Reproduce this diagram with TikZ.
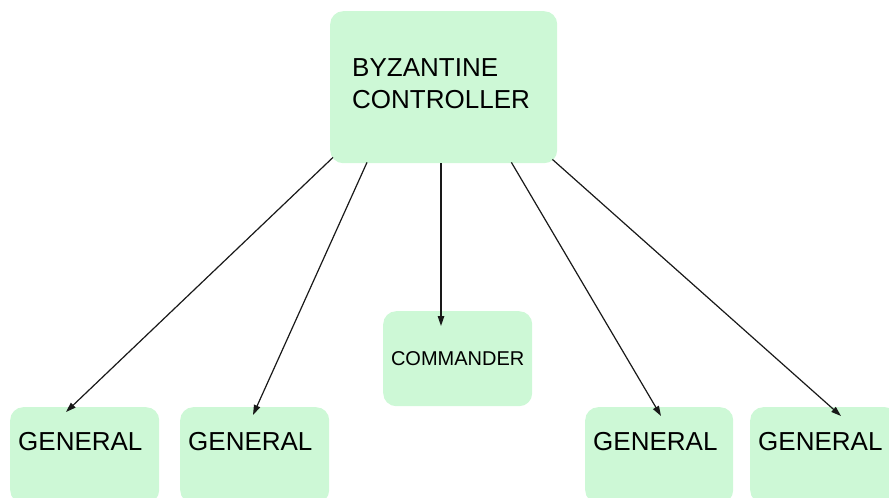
\documentclass[tikz,border=0pt]{standalone}
\usepackage{fontspec}
\setmainfont{Liberation Sans}
\usetikzlibrary{arrows.meta,calc}
\definecolor{boxgreen}{RGB}{205,248,214}
\definecolor{linegray}{RGB}{25,25,25}
\tikzset{
  roundbox/.style={fill=boxgreen, draw=none, rounded corners=13pt, inner sep=0pt, anchor=north west},
  bigtext/.style={font=\fontsize{26pt}{32pt}\selectfont, inner sep=0pt, anchor=base west, align=left},
  link/.style={draw=linegray, line width=1.2pt, -{Triangle[length=10pt,width=6.5pt]}}
}
\begin{document}
\begin{tikzpicture}[x=1pt,y=-1pt]
  \useasboundingbox (0,0) rectangle (889,498);

  % boxes
  \node[roundbox, minimum width=227pt, minimum height=152pt] (ctrl) at (330,11) {};
  \node[roundbox, minimum width=149pt, minimum height=95pt,
        font=\fontsize{20pt}{24pt}\selectfont] (comm) at (383,311) {COMMANDER};
  \node[roundbox, minimum width=149pt, minimum height=96pt] (gen1) at (10,407) {};
  \node[roundbox, minimum width=149pt, minimum height=96pt] (gen2) at (180,407) {};
  \node[roundbox, minimum width=148pt, minimum height=96pt] (gen3) at (585,407) {};
  \node[roundbox, minimum width=148pt, minimum height=96pt] (gen4) at (750,407) {};

  % labels (base anchor of a two-line node sits on its last line)
  \node[bigtext] (ctrltext) at ($(ctrl.north west)+(22,97)$) {BYZANTINE\\CONTROLLER};
  \node[bigtext] (gen1text) at ($(gen1.north west)+(8,43)$) {GENERAL};
  \node[bigtext] (gen2text) at ($(gen2.north west)+(8,43)$) {GENERAL};
  \node[bigtext] (gen3text) at ($(gen3.north west)+(8,43)$) {GENERAL};
  \node[bigtext] (gen4text) at ($(gen4.north west)+(8,43)$) {GENERAL};

  % connectors
  \draw[link] ($(ctrl.south west)+(3,-6)$) -- ($(gen1.north west)+(56,5)$);
  \draw[link] ($(ctrl.south west)+(37,-1)$) -- ($(gen2.north west)+(73,8)$);
  \draw[link] ($(ctrl.south west)+(111,0)$) -- ($(comm.north west)+(58,15)$);
  \draw[link] ($(ctrl.south east)+(-46,-1)$) -- ($(gen3.north west)+(76,9)$);
  \draw[link] ($(ctrl.south east)+(-5,-4)$) -- ($(gen4.north west)+(91,9)$);
\end{tikzpicture}
\end{document}
